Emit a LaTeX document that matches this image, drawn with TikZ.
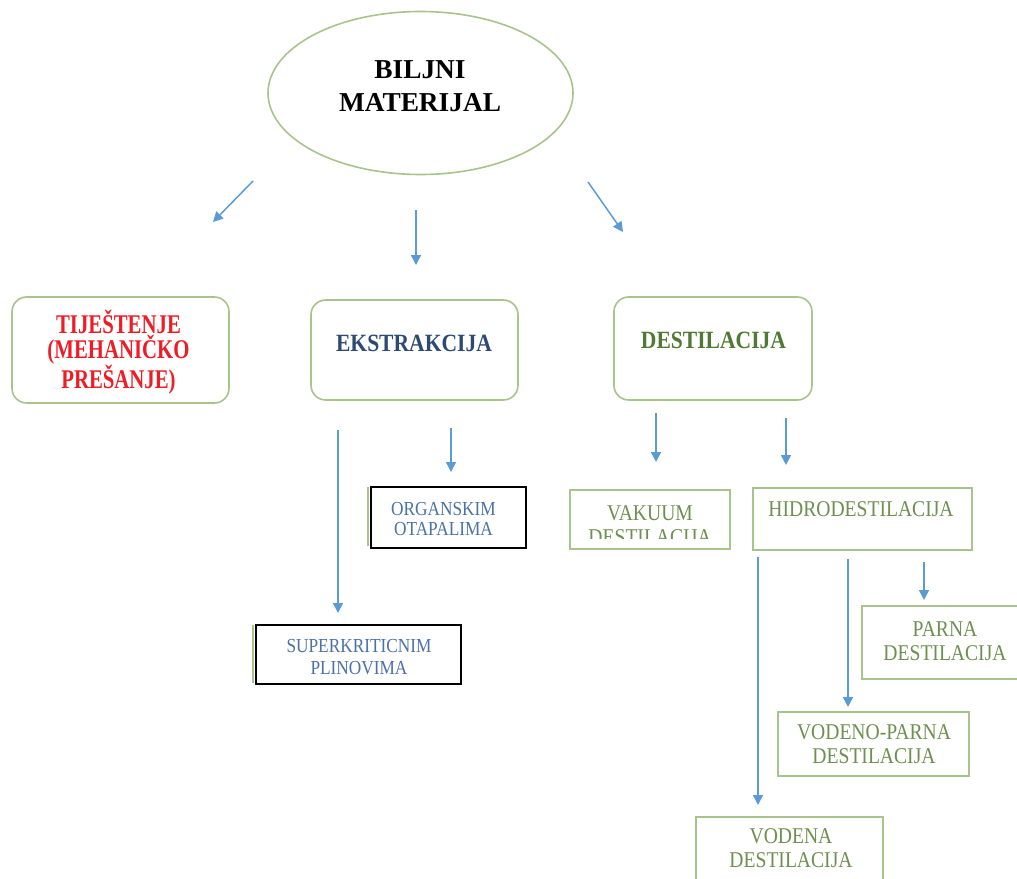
\documentclass[tikz,border=0pt]{standalone}
\usepackage{fontspec}
\setmainfont{Liberation Serif}
\newfontfamily\condA[FakeStretch=0.77]{Liberation Serif}
\newfontfamily\condB[FakeStretch=0.87]{Liberation Serif}
\usetikzlibrary{shapes.geometric,arrows.meta,fit}
\definecolor{bordergreen}{HTML}{A8C48C}
\definecolor{arrowblue}{HTML}{5B9BD5}
\definecolor{titlered}{HTML}{EE1C25}
\definecolor{navy}{HTML}{2E4A72}
\definecolor{dgreen}{HTML}{4E7A34}
\definecolor{stblue}{HTML}{4A72A8}
\definecolor{tgreen}{HTML}{6E8F50}
\tikzset{
  rbox/.style={draw=bordergreen, line width=1.2pt, rounded corners=11pt, inner sep=0pt},
  gbox/.style={draw=bordergreen, line width=1.2pt, inner sep=0pt},
  kbox/.style={draw=black, line width=1pt, inner sep=0pt},
  arr/.style={draw=arrowblue, line width=1.1pt, -{Triangle[length=7.5pt,width=7.5pt]}},
  bigtxt/.style={font=\condB\fontsize{18.6}{20}\selectfont\bfseries, align=center, inner sep=0pt},
  btxt/.style={text=stblue, font=\condB\fontsize{14.9}{16.2}\selectfont, align=center, inner sep=0pt},
  gtxt/.style={text=tgreen, font=\condB\fontsize{16.9}{18.2}\selectfont, align=center, inner sep=0pt},
}
\begin{document}
\begin{tikzpicture}[x=0.75pt,y=-0.75pt]
\useasboundingbox (0,0) rectangle (1017,878);
\clip (0,0) rectangle (1017,878);
\fill[white] (0,0) rectangle (1017,878);

% root ellipse
\node[ellipse, draw=bordergreen, line width=1.2pt, minimum width=228.75pt, minimum height=122.25pt, inner sep=0pt] (root) at (420.5,93) {};
\node[font=\fontsize{20.5}{24.4}\selectfont\bfseries, align=center, inner sep=0pt] (roott) at (420,86) {BILJNI\\MATERIJAL};

% arrows from root
\coordinate (a1s) at (253,181); \coordinate (a1e) at (213,222);
\coordinate (a2s) at (416,210); \coordinate (a2e) at (416,265);
\coordinate (a3s) at (588,182); \coordinate (a3e) at (623,232);
\draw[arr] (a1s) -- (a1e);
\draw[arr] (a2s) -- (a2e);
\draw[arr] (a3s) -- (a3e);

% level 1 boxes
\node[rbox, fit={(12,297) (229,403)}] (tij) {};
\node[text=titlered, font=\condA\fontsize{20.25}{18.75}\selectfont\bfseries, align=center, inner sep=0pt] (tijt) at (118.5,352) {TIJEŠTENJE\\(MEHANIČKO\\PREŠANJE)};
\node[rbox, fit={(311,300) (518,400)}] (eks) {};
\node[bigtxt, text=navy] (ekst) at (414,343.5) {EKSTRAKCIJA};
\node[rbox, fit={(614,297) (812,400)}] (des) {};
\node[bigtxt, text=dgreen] (dest) at (713.5,340.5) {DESTILACIJA};

% ekstrakcija arrows
\coordinate (a4s) at (338,430); \coordinate (a4e) at (338,613);
\coordinate (a5s) at (451,428); \coordinate (a5e) at (451,472);
\draw[arr] (a4s) -- (a4e);
\draw[arr] (a5s) -- (a5e);

% organskim otapalima
\draw[bordergreen, line width=1pt] (368,487) -- (368,546);
\node[kbox, fit={(371,487) (526,548)}] (org) {};
\node[btxt, font=\condB\fontsize{14.9}{15.4}\selectfont] (orgt) at (443.5,519) {ORGANSKIM\\OTAPALIMA};

% superkriticnim plinovima
\draw[bordergreen, line width=1pt] (253,625) -- (253,683);
\node[kbox, fit={(256,625) (461,684)}] (sup) {};
\node[btxt, font=\condB\fontsize{14.9}{16.9}\selectfont] (supt) at (359,657) {SUPERKRITICNIM\\PLINOVIMA};

% destilacija arrows
\coordinate (a6s) at (656,413); \coordinate (a6e) at (656,462);
\coordinate (a7s) at (786,418); \coordinate (a7e) at (786,465);
\draw[arr] (a6s) -- (a6e);
\draw[arr] (a7s) -- (a7e);

% vakuum destilacija
\node[gbox, fit={(570,490) (730,549)}] (vak) {};
\begin{scope}
\clip (570,490) rectangle (730,538);
\node[gtxt] (vakt) at (650,525) {VAKUUM\\DESTILACIJA};
\end{scope}

% hidrodestilacija
\node[gbox, fit={(753,488) (972,550)}] (hid) {};
\node[gtxt] (hidt) at (861,509) {HIDRODESTILACIJA};

% hidro arrows
\coordinate (a8s) at (758,557); \coordinate (a8e) at (758,805);
\coordinate (a9s) at (848,559); \coordinate (a9e) at (848,707);
\coordinate (a10s) at (924,562); \coordinate (a10e) at (924,600);
\draw[arr] (a8s) -- (a8e);
\draw[arr] (a9s) -- (a9e);
\draw[arr] (a10s) -- (a10e);

% parna destilacija
\node[gbox, fit={(862,606) (1018,679)}] (par) {};
\node[gtxt] (part) at (945,641) {PARNA\\DESTILACIJA};

% vodeno-parna destilacija
\node[gbox, fit={(778,712) (969,776)}] (vp) {};
\node[gtxt] (vpt) at (874,744) {VODENO-PARNA\\DESTILACIJA};

% vodena destilacija
\node[gbox, fit={(696,817) (883,885)}] (vod) {};
\node[gtxt] (vodt) at (791,848) {VODENA\\DESTILACIJA};
\end{tikzpicture}
\end{document}
